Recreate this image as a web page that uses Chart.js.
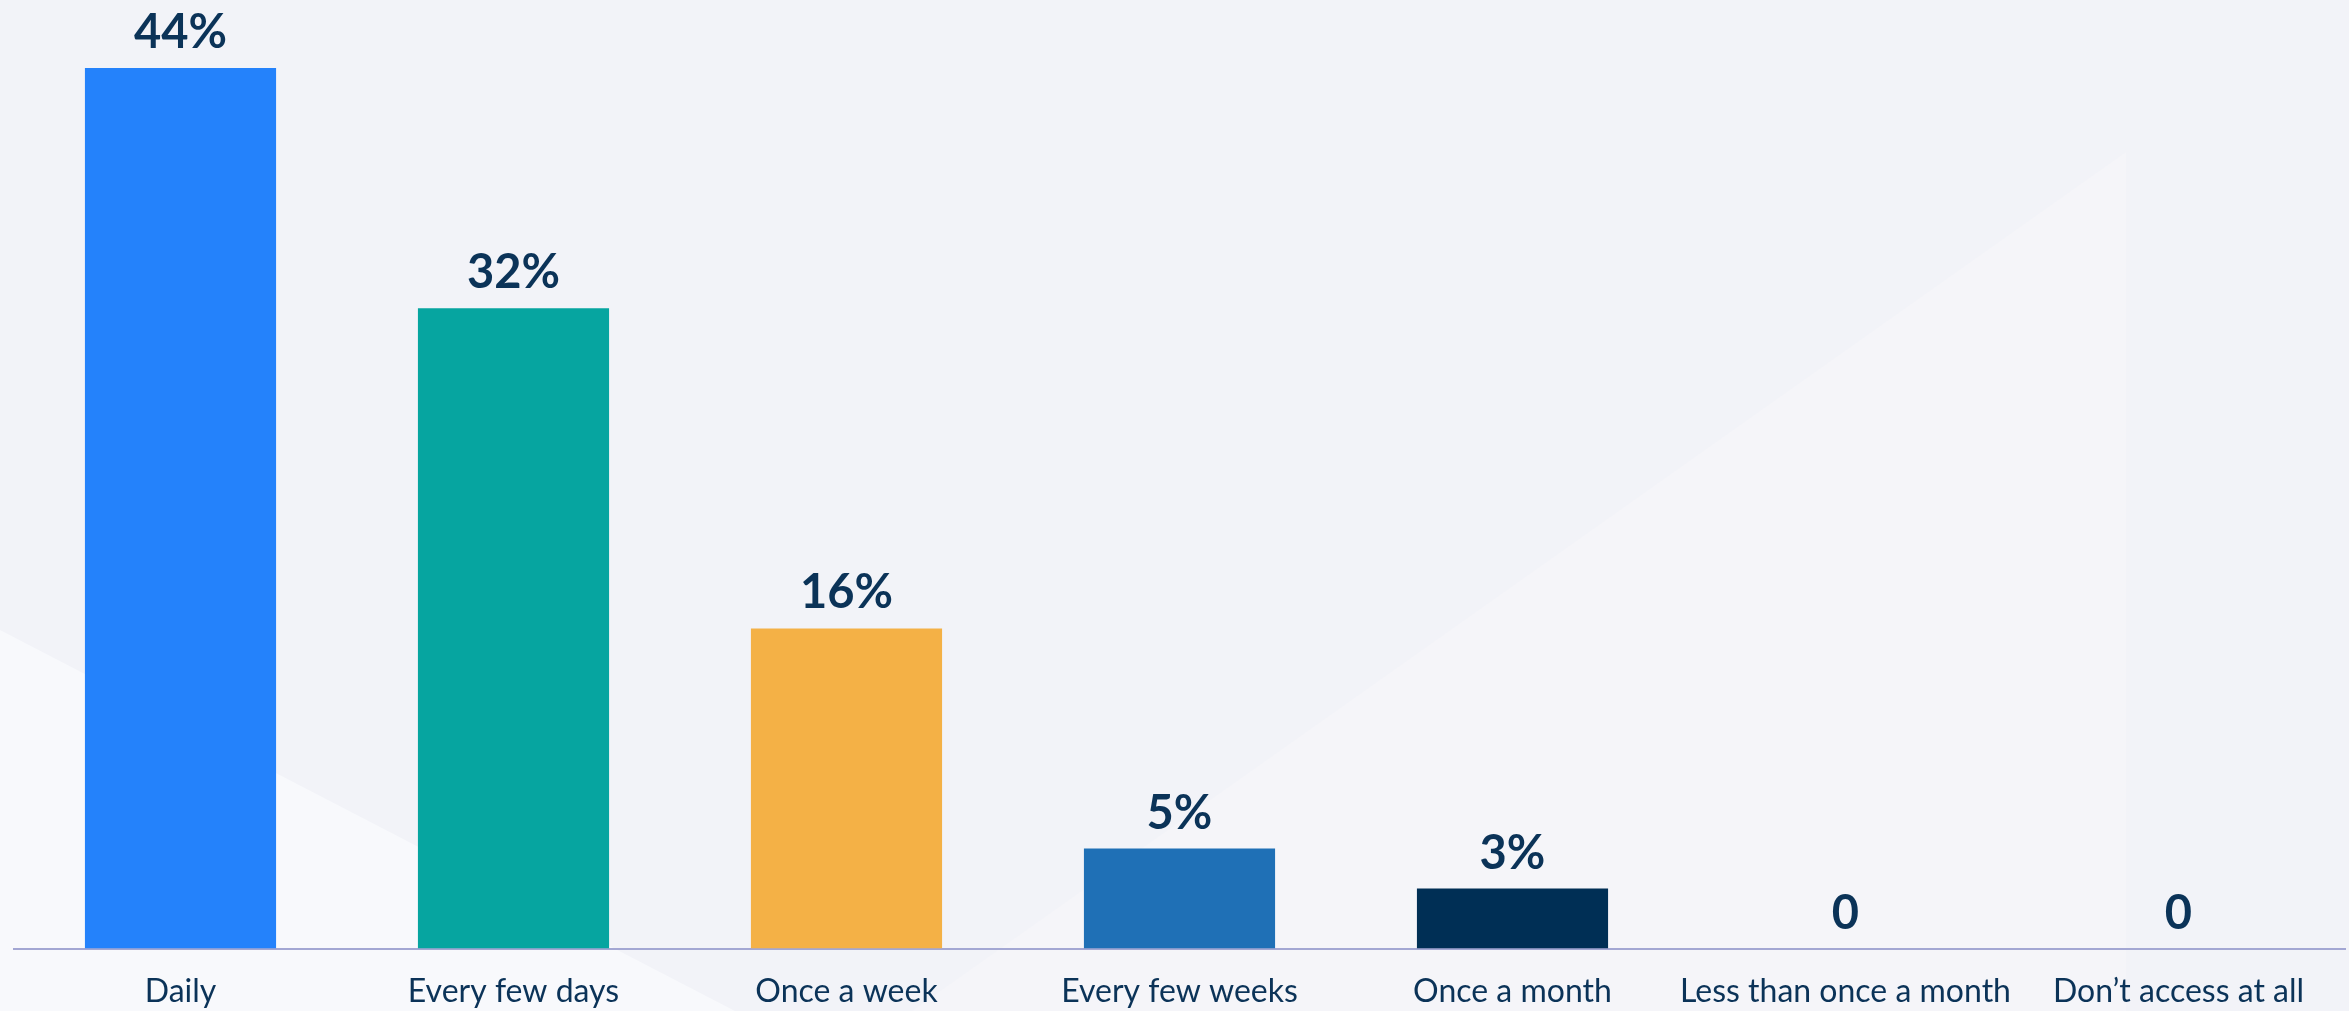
<!DOCTYPE html>
<html>
<head>
<meta charset="utf-8">
<script src="https://cdn.jsdelivr.net/npm/chart.js@4/dist/chart.umd.min.js"></script>
<style>
  html, body { margin: 0; padding: 0; background: #f2f3f8; }
  #wrap { position: relative; width: 2349px; height: 1011px; }
</style>
</head>
<body>
<div id="wrap"><canvas id="freqChart"></canvas></div>
<script>
// Access frequency, share of respondents (%)
const categories = ['Daily', 'Every few days', 'Once a week', 'Every few weeks', 'Once a month', 'Less than once a month', 'Don\u2019t access at all'];
const shares = [44, 32, 16, 5, 3, 0, 0];
const barColors = ['#2482fb', '#06a5a0', '#f4b146', '#1f70b6', '#002f55', '#002f55', '#002f55'];

const textColor = '#0b3358';

// Soft angled panels behind the chart
const backdrop = {
  id: 'backdrop',
  beforeDraw(chart) {
    const ctx = chart.ctx;
    const w = chart.width, h = chart.height;
    ctx.save();
    ctx.fillStyle = '#f2f3f8';
    ctx.fillRect(0, 0, w, h);

    ctx.fillStyle = '#f5f5f9';
    ctx.beginPath();
    ctx.moveTo(912, h);
    ctx.lineTo(2126, 152);
    ctx.lineTo(2126, h);
    ctx.closePath();
    ctx.fill();

    ctx.fillStyle = '#f8f9fc';
    ctx.beginPath();
    ctx.moveTo(0, 630);
    ctx.lineTo(735, h);
    ctx.lineTo(0, h);
    ctx.closePath();
    ctx.fill();
    ctx.restore();
  }
};

// Value labels above each bar
const valueLabels = {
  id: 'valueLabels',
  afterDatasetsDraw(chart) {
    const ctx = chart.ctx;
    const meta = chart.getDatasetMeta(0);
    ctx.save();
    ctx.font = 'bold 47px Lato';
    ctx.fillStyle = textColor;
    ctx.textAlign = 'center';
    ctx.textBaseline = 'alphabetic';
    meta.data.forEach((bar, i) => {
      const v = shares[i];
      const txt = v === 0 ? '0' : v + '%';
      ctx.fillText(txt, bar.x, bar.y - 20);
    });
    ctx.restore();
  }
};

new Chart(document.getElementById('freqChart'), {
  type: 'bar',
  data: {
    labels: categories,
    datasets: [{
      data: shares,
      backgroundColor: barColors,
      borderWidth: 0,
      categoryPercentage: 1,
      barPercentage: 0.574
    }]
  },
  options: {
    responsive: true,
    maintainAspectRatio: false,
    animation: false,
    layout: { padding: { left: 14, right: 4, top: 0, bottom: -24 } },
    plugins: {
      legend: { display: false },
      tooltip: { enabled: false }
    },
    scales: {
      x: {
        grid: { display: false, drawTicks: false },
        border: { display: true, color: '#a3a7d3', width: 2 },
        ticks: {
          color: textColor,
          font: { family: 'Lato', size: 32 },
          padding: 24,
          maxRotation: 0,
          autoSkip: false
        }
      },
      y: {
        display: false,
        min: 0,
        max: 47.4
      }
    }
  },
  plugins: [backdrop, valueLabels]
});
</script>
</body>
</html>
